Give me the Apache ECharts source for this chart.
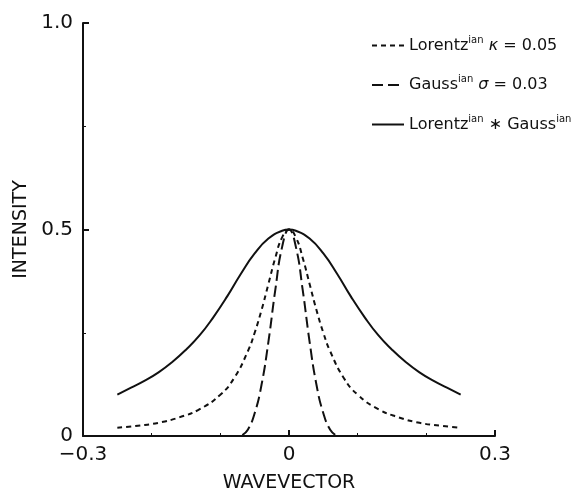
<!DOCTYPE html>
<html>
<head>
<meta charset="utf-8">
<script src="https://cdn.jsdelivr.net/npm/echarts@6/dist/echarts.min.js"></script>
<style>
    html, body { margin: 0; padding: 0; background: #fff; }
    #chart { width: 583px; height: 498px; }
</style>
</head>
<body>
<div id="chart"></div>
<script>
// values
const lorentzX = [-0.25, -0.22, -0.19, -0.16, -0.13, -0.10, -0.08, -0.06, -0.05, -0.04, -0.03, -0.02, -0.01, 0,
    0.01, 0.02, 0.03, 0.04, 0.05, 0.06, 0.08, 0.10, 0.13, 0.16, 0.19, 0.22, 0.25]
const lorentzY = [0.020, 0.025, 0.032, 0.045, 0.065, 0.100, 0.140, 0.205, 0.250, 0.305, 0.368, 0.431, 0.481, 0.500,
    0.481, 0.431, 0.368, 0.305, 0.250, 0.205, 0.140, 0.100, 0.065, 0.045, 0.032, 0.025, 0.020]

const gaussX = [-0.068, -0.06, -0.05, -0.04, -0.03, -0.02, -0.01, 0, 0.01, 0.02, 0.03, 0.04, 0.05, 0.06, 0.068]
const gaussY = [0.002, 0.015, 0.055, 0.124, 0.228, 0.353, 0.458, 0.500, 0.458, 0.353, 0.228, 0.124, 0.055, 0.015, 0.002]

const voigtX = [-0.25, -0.23, -0.21, -0.19, -0.17, -0.15, -0.13, -0.11, -0.09, -0.07, -0.05, -0.03, -0.01, 0,
    0.01, 0.03, 0.05, 0.07, 0.09, 0.11, 0.13, 0.15, 0.17, 0.19, 0.21, 0.23, 0.25]
const voigtY = [0.100, 0.117, 0.134, 0.154, 0.179, 0.209, 0.244, 0.288, 0.338, 0.393, 0.442, 0.478, 0.497, 0.500,
    0.497, 0.478, 0.442, 0.393, 0.338, 0.288, 0.244, 0.209, 0.179, 0.154, 0.134, 0.117, 0.100]

const xTickLabels = ['\u22120.3', '0', '0.3']
const yTickLabels = ['0', '0.5', '1.0']

const seriesNames = ['lorentz', 'gauss', 'conv']
const legendText = {
    lorentz: '{n|Lorentz}{s|ian} {i|\u03ba} {n|= 0.05}',
    gauss: '{n|Gauss}{s|ian} {i|\u03c3} {n|= 0.03}',
    conv: '{n|Lorentz}{s|ian}{n| \u2217 Gauss}{s|ian}'
}

const pairs = (xs, ys) => xs.map((x, i) => [x, ys[i]])

const ink = '#111'
const font = 'DejaVu Sans'

let chart = echarts.init(document.getElementById('chart'))
let option = {
    animation: false,
    color: [ink, ink, ink],
    grid: {
        left: 83,
        right: 88,
        top: 23,
        bottom: 60
    },
    legend: {
        orient: 'vertical',
        left: 366,
        top: 30,
        itemWidth: 32,
        itemHeight: 14,
        itemGap: 21,
        data: seriesNames,
        formatter: name => legendText[name],
        itemStyle: { opacity: 0 },
        textStyle: {
            fontFamily: font,
            fontSize: 16,
            color: ink,
            rich: {
                n: { fontSize: 16, fontFamily: font, color: ink },
                i: { fontSize: 16, fontFamily: font, fontStyle: 'italic', color: ink },
                s: { fontSize: 10, fontFamily: font, color: ink, padding: [0, 0, 11, 0] }
            }
        }
    },
    xAxis: {
        type: 'value',
        min: -0.3,
        max: 0.3,
        interval: 0.3,
        name: 'WAVEVECTOR',
        nameLocation: 'middle',
        nameGap: 38,
        nameTextStyle: { fontFamily: font, fontSize: 19, color: ink },
        axisLine: { show: true, onZero: false, lineStyle: { color: ink, width: 2 } },
        axisTick: { inside: true, length: 6, lineStyle: { color: ink, width: 2 } },
        minorTick: { show: true, splitNumber: 3, length: 3, lineStyle: { color: ink, width: 1 } },
        splitLine: { show: false },
        axisLabel: {
            margin: 9,
            fontFamily: font,
            fontSize: 20,
            color: ink,
            formatter: (v, i) => xTickLabels[i]
        }
    },
    yAxis: {
        type: 'value',
        min: 0,
        max: 1,
        interval: 0.5,
        name: 'INTENSITY',
        nameLocation: 'middle',
        nameGap: 52,
        nameTextStyle: { fontFamily: font, fontSize: 19, color: ink },
        axisLine: { show: true, onZero: false, lineStyle: { color: ink, width: 2 } },
        axisTick: { inside: true, length: 6, lineStyle: { color: ink, width: 2 } },
        minorTick: { show: true, splitNumber: 2, length: 3, lineStyle: { color: ink, width: 1 } },
        splitLine: { show: false },
        axisLabel: {
            margin: 10,
            fontFamily: font,
            fontSize: 20,
            color: ink,
            formatter: (v, i) => yTickLabels[i]
        }
    },
    series: [
        {
            name: 'lorentz',
            type: 'line',
            data: pairs(lorentzX, lorentzY),
            showSymbol: false,
            symbol: 'none',
            smooth: true,
            lineStyle: { color: ink, width: 2, type: [5, 4] }
        },
        {
            name: 'gauss',
            type: 'line',
            data: pairs(gaussX, gaussY),
            showSymbol: false,
            symbol: 'none',
            smooth: true,
            lineStyle: { color: ink, width: 2, type: [11, 5] }
        },
        {
            name: 'conv',
            type: 'line',
            data: pairs(voigtX, voigtY),
            showSymbol: false,
            symbol: 'none',
            smooth: true,
            lineStyle: { color: ink, width: 2 }
        }
    ]
}
chart.setOption(option)
</script>
</body>
</html>
